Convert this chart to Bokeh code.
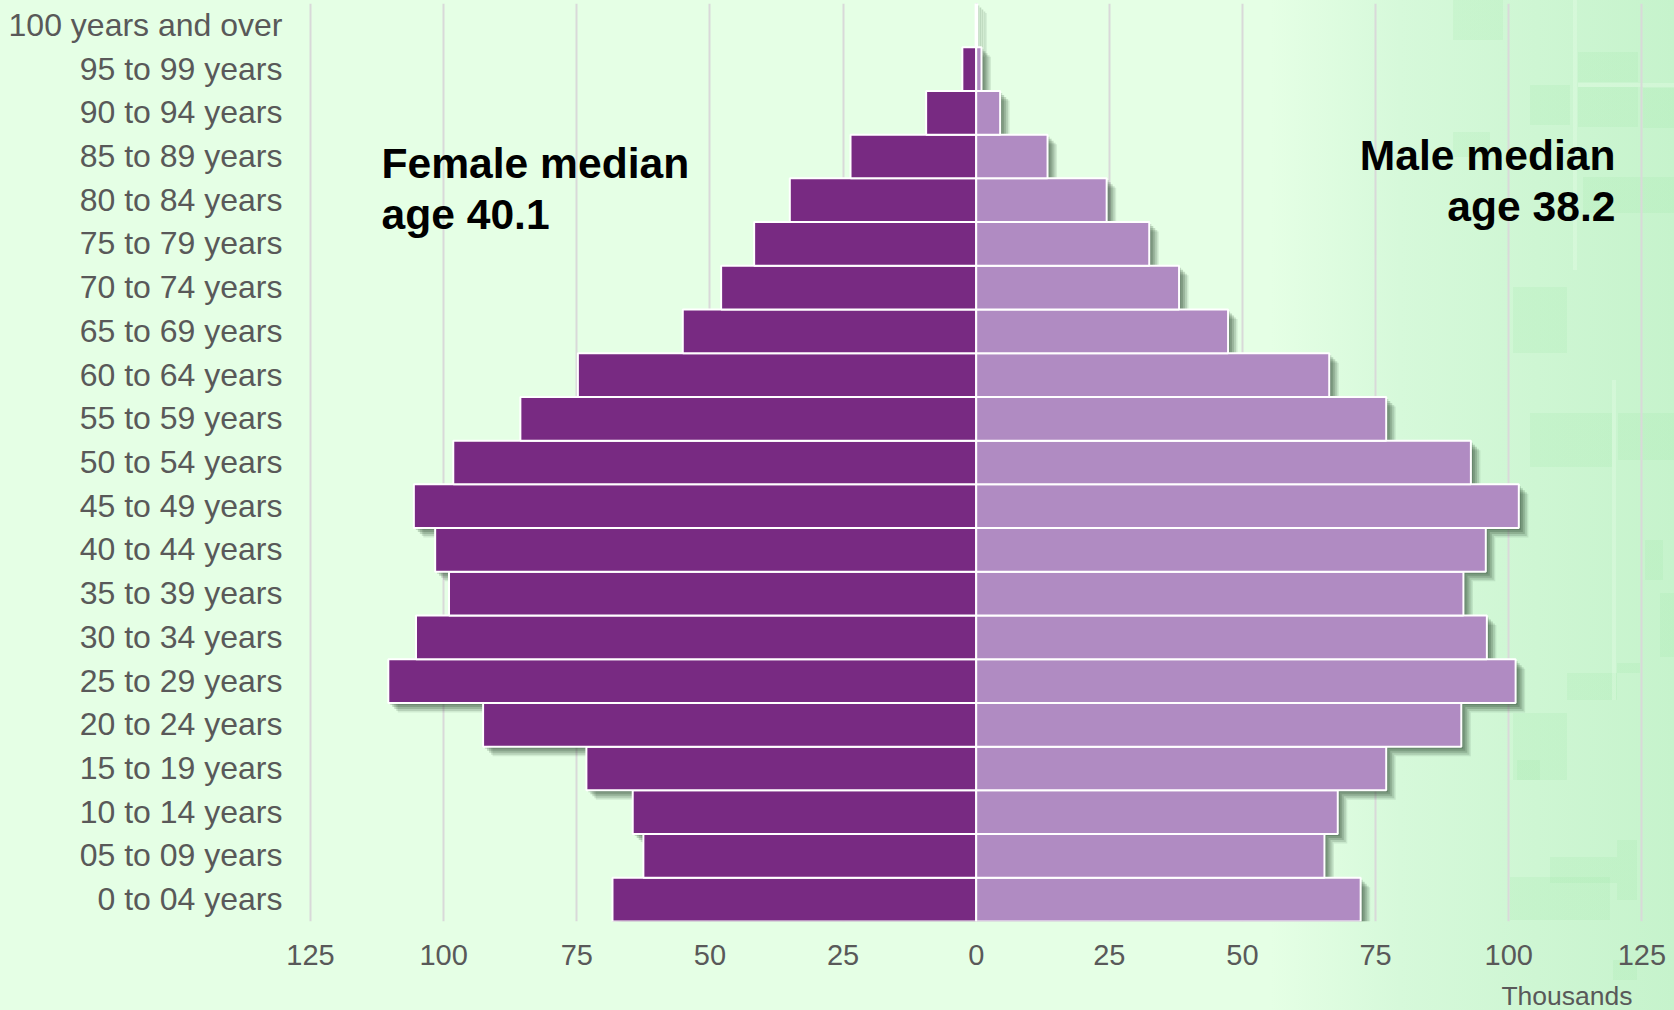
from bokeh.plotting import figure
from bokeh.models import Range1d, FixedTicker, Label, Title
from bokeh.embed import file_html
from bokeh.resources import INLINE

age_labels = ["0 to 04 years", "05 to 09 years", "10 to 14 years", "15 to 19 years", "20 to 24 years",
              "25 to 29 years", "30 to 34 years", "35 to 39 years", "40 to 44 years", "45 to 49 years",
              "50 to 54 years", "55 to 59 years", "60 to 64 years", "65 to 69 years", "70 to 74 years",
              "75 to 79 years", "80 to 84 years", "85 to 89 years", "90 to 94 years", "95 to 99 years",
              "100 years and over"]
female = [68.3, 62.5, 64.5, 73.2, 92.6, 110.4, 105.2, 99.0, 101.6, 105.6, 98.2,
          85.6, 74.8, 55.1, 47.9, 41.7, 35.0, 23.6, 9.4, 2.6, 0.1]
male = [72.2, 65.4, 67.9, 77.0, 91.1, 101.3, 95.9, 91.5, 95.7, 101.9, 92.9,
        77.0, 66.3, 47.3, 38.1, 32.5, 24.5, 13.4, 4.5, 1.0, 0.2]
x_ticks = [-125, -100, -75, -50, -25, 0, 25, 50, 75, 100, 125]

FONT = "Liberation Sans"
PX_X = 1340 / 251.64
PX_Y = 918 / 21

p = figure(width=1674, height=1026, output_backend="svg", toolbar_location=None,
           x_range=Range1d(-125.95, 125.69), y_range=Range1d(0, 21),
           min_border_left=305, min_border_right=29, min_border_top=3, min_border_bottom=105,
           background_fill_color=None, border_fill_color=None, outline_line_color=None)

ys = [i + 0.5 for i in range(len(age_labels))]
neg = [-v for v in female]

# soft drop shadow, built up from translucent offset copies of the bars
for off, a in [(2, 0.2), (4, 0.2), (6, 0.18), (8, 0.14), (9.5, 0.1)]:
    dx, dy = off / PX_X, off / PX_Y
    p.hbar(y=[y - dy for y in ys], left=[v + dx for v in neg], right=[dx] * len(neg), height=1,
           fill_color="#1f3a24", fill_alpha=a, line_color=None)
    p.hbar(y=[y - dy for y in ys], left=[dx] * len(male), right=[v + dx for v in male], height=1,
           fill_color="#1f3a24", fill_alpha=a, line_color=None)

p.hbar(y=ys, left=neg, right=[0] * len(neg), height=1, fill_color="#782a82", line_color="white", line_width=2)
p.hbar(y=ys, left=[0] * len(male), right=male, height=1, fill_color="#b08bc2", line_color="white", line_width=2)

p.xgrid.ticker = FixedTicker(ticks=x_ticks)
p.xgrid.grid_line_color = "#d9d9d9"
p.xgrid.grid_line_width = 2
p.xgrid.level = "underlay"
p.ygrid.visible = False

p.xaxis.ticker = FixedTicker(ticks=x_ticks)
p.xaxis.major_label_overrides = {t: str(abs(t)) for t in x_ticks}
p.xaxis.major_label_text_font = FONT
p.xaxis.major_label_text_font_size = "29px"
p.xaxis.major_label_text_color = "#595959"
p.xaxis.major_label_standoff = 17
p.xaxis.axis_line_color = None
p.xaxis.major_tick_line_color = None
p.xaxis.minor_tick_line_color = None

label_ys = [y + 0.012 for y in ys]
p.yaxis.ticker = FixedTicker(ticks=label_ys)
p.yaxis.major_label_overrides = {y: s for y, s in zip(label_ys, age_labels)}
p.yaxis.major_label_text_font = FONT
p.yaxis.major_label_text_font_size = "32px"
p.yaxis.major_label_text_color = "#595959"
p.yaxis.major_label_standoff = 17
p.yaxis.axis_line_color = None
p.yaxis.major_tick_line_color = None
p.yaxis.minor_tick_line_color = None


def px_x(px):
    return (px - 975.7) / PX_X


def px_y(px):
    return (921 - px) / PX_Y


for txt, x, y, align in [("Female median", 381, 162, "left"), ("age 40.1", 381, 213, "left"),
                         ("Male median", 1615, 154, "right"), ("age 38.2", 1615, 205, "right")]:
    p.add_layout(Label(x=px_x(x), y=px_y(y), text=txt, text_font=FONT, text_font_style="bold",
                       text_font_size="42.6px", text_color="black", text_align=align, text_baseline="alphabetic"))

p.add_layout(Title(text="Thousands", align="right", offset=13, standoff=23, text_font=FONT,
                   text_font_size="26.5px", text_font_style="normal", text_color="#595959"), "below")

# faint map texture behind the right of the chart, painted as page background
map_patches = [(1453, 0, 1503, 40), (1578, 52, 1638, 82), (1578, 87, 1638, 127), (1643, 88, 1674, 128),
               (1530, 85, 1570, 125), (1453, 132, 1490, 157), (1583, 177, 1674, 213), (1513, 287, 1567, 353),
               (1530, 413, 1612, 467), (1618, 413, 1674, 460), (1617, 663, 1640, 673), (1567, 673, 1617, 700),
               (1513, 713, 1567, 780), (1660, 593, 1674, 657), (1645, 540, 1663, 580), (1550, 857, 1617, 883),
               (1510, 877, 1610, 920), (1617, 840, 1637, 900), (1613, 960, 1637, 980), (1517, 760, 1540, 780)]
map_roads = [(1573, 0, 1577, 270), (1578, 83, 1674, 87), (1612, 380, 1616, 700)]
patch = "linear-gradient(rgba(150,228,160,.16),rgba(150,228,160,.16))"
road = "linear-gradient(rgba(235,255,235,.3),rgba(235,255,235,.3))"
rects = map_roads + map_patches
images = ",".join([road] * len(map_roads) + [patch] * len(map_patches))
sizes = ",".join(f"{r - l}px {b - t}px" for l, t, r, b in rects)
poss = ",".join(f"{l}px {t}px" for l, t, r, b in rects)
css = ("<style>html,body{margin:0;padding:0;width:1674px;height:1010px;overflow:hidden;background-color:#e5ffe5;"
       f"background-image:{images},linear-gradient(to right,#e5ffe5 0,#e5ffe5 1270px,#d6f9da 1400px,#c6f3cc 1674px);"
       f"background-size:{sizes},100% 100%;background-position:{poss},0 0;background-repeat:no-repeat;}}</style>")

html = file_html(p, INLINE).replace("</head>", css + "</head>", 1)
open("out.html", "w").write(html)
